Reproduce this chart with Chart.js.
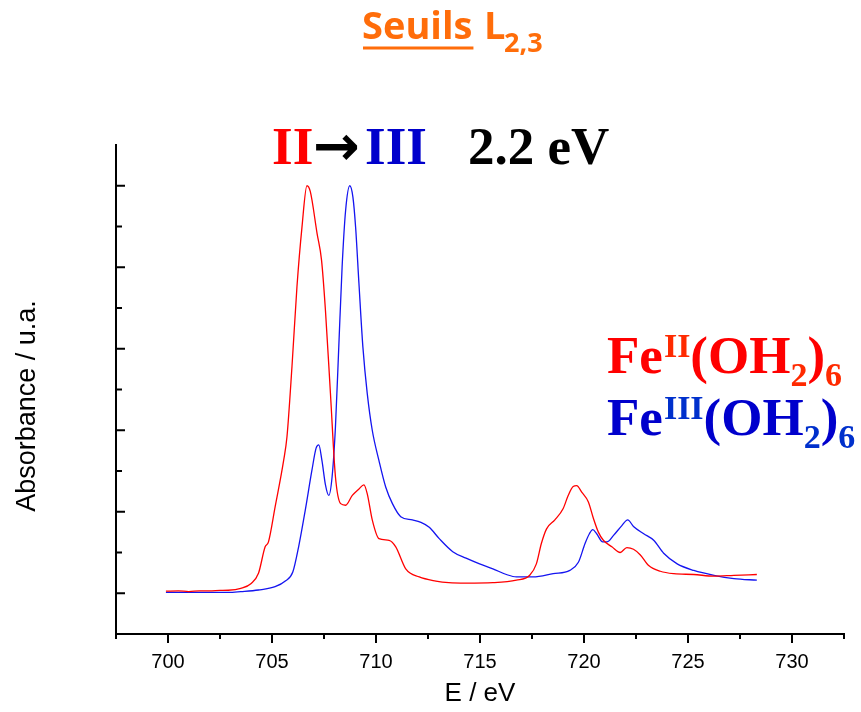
<!DOCTYPE html>
<html>
<head>
<meta charset="utf-8">
<script src="https://cdn.jsdelivr.net/npm/chart.js@4.4.0/dist/chart.umd.min.js"></script>
<style>
  html, body { margin: 0; padding: 0; background: #fff; }
  #wrap { width: 861px; height: 712px; }
</style>
</head>
<body>
<div id="wrap"><canvas id="xas"></canvas></div>
<script>
// Fe(II) hexaaqua, L2,3 edge
const energyFe2 = [699.9, 700.5, 701.0, 701.5, 702.0, 702.5, 702.9, 703.5, 704.0, 704.35, 704.67, 704.83,
  705.15, 705.56, 705.72, 705.96, 706.2, 706.44, 706.68, 706.84, 707.17, 707.38, 707.57, 707.81, 708.05,
  708.3, 708.54, 708.86, 709.18, 709.42, 709.58, 709.82, 710.14, 710.63, 710.95, 711.43, 712.08, 712.88,
  713.5, 714.33, 715.62, 716.75, 717.39, 717.71, 717.95, 718.2, 718.6, 719.0, 719.24, 719.48, 719.65,
  719.89, 720.21, 720.45, 720.69, 720.93, 721.34, 721.74, 722.06, 722.38, 722.71, 723.11, 723.67, 724.32,
  725.28, 726.25, 727.21, 728.31];
const absFe2 = [0.025, 0.03, 0.02, 0.03, 0.03, 0.035, 0.037, 0.06, 0.12, 0.245, 0.57, 0.63,
  1.06, 1.63, 1.92, 2.78, 3.76, 4.49, 5.0, 4.93, 4.41, 4.09, 3.47, 2.45, 1.43,
  1.10, 1.08, 1.20, 1.28, 1.33, 1.22, 0.90, 0.67, 0.65, 0.57, 0.30, 0.20, 0.15,
  0.13, 0.125, 0.13, 0.16, 0.22, 0.36, 0.61, 0.79, 0.90, 1.04, 1.20, 1.31, 1.32,
  1.24, 1.12, 0.92, 0.75, 0.65, 0.57, 0.50, 0.56, 0.54, 0.47, 0.34, 0.27, 0.24,
  0.23, 0.21, 0.22, 0.23];

// Fe(III) hexaaqua
const energyFe3 = [699.9, 701.0, 702.0, 702.9, 703.5, 704.35, 705.15, 705.64, 706.0, 706.28, 706.6, 706.92,
  707.12, 707.25, 707.4, 707.57, 707.73, 707.89, 708.05, 708.21, 708.37, 708.54, 708.74, 708.89, 709.02,
  709.18, 709.37, 709.58, 709.82, 710.14, 710.47, 710.79, 711.19, 711.75, 712.16, 712.56, 713.04, 713.69,
  714.33, 714.98, 715.62, 716.27, 716.75, 717.55, 718.52, 719.32, 719.73, 720.05, 720.26, 720.42, 720.61,
  720.9, 721.1, 721.42, 721.82, 722.1, 722.38, 722.87, 723.35, 723.83, 724.48, 725.28, 726.25, 727.21, 728.31];
const absFe3 = [0.01, 0.01, 0.01, 0.01, 0.02, 0.04, 0.08, 0.15, 0.26, 0.57, 1.02, 1.51,
  1.78, 1.82, 1.63, 1.33, 1.20, 1.43, 2.04, 3.02, 4.0, 4.70, 5.0, 4.86, 4.49,
  3.80, 3.02, 2.45, 2.0, 1.63, 1.30, 1.10, 0.94, 0.90, 0.87, 0.81, 0.67, 0.51,
  0.43, 0.36, 0.30, 0.23, 0.20, 0.20, 0.24, 0.28, 0.38, 0.61, 0.73, 0.78, 0.73,
  0.63, 0.63, 0.71, 0.83, 0.90, 0.82, 0.73, 0.65, 0.49, 0.36, 0.28, 0.22, 0.18, 0.16];

const xTicks = [700, 705, 710, 715, 720, 725, 730];
const xMinorTicks = [697.5, 702.5, 707.5, 712.5, 717.5, 722.5, 727.5, 732.5];
const yTicks = [0, 1, 2, 3, 4, 5];
const yMinorTicks = [0.5, 1.5, 2.5, 3.5, 4.5];

const RED = '#FF0000';
const BLUE = '#1414F0';
const ORANGE = '#FF6D0A';
const serif = '"Liberation Serif", "Times New Roman", serif';
const sans = '"Liberation Sans", Arial, sans-serif';

function runs(ctx, x, y, parts) {
  parts.forEach(p => {
    ctx.font = p.font;
    ctx.fillStyle = p.color;
    ctx.fillText(p.text, x, y + (p.dy || 0));
    x += ctx.measureText(p.text).width + (p.gap || 0);
  });
  return x;
}

const decor = {
  id: 'decor',
  afterDraw(chart) {
    const ctx = chart.ctx;
    const xs = chart.scales.x, ys = chart.scales.y;
    const a = chart.chartArea;
    ctx.save();
    ctx.strokeStyle = '#000';
    ctx.lineWidth = 2;
    ctx.beginPath();
    xTicks.forEach(v => { const p = xs.getPixelForValue(v); ctx.moveTo(p, a.bottom); ctx.lineTo(p, a.bottom + 9); });
    xMinorTicks.forEach(v => { const p = xs.getPixelForValue(v); ctx.moveTo(p, a.bottom); ctx.lineTo(p, a.bottom + 5); });
    yTicks.forEach(v => { const p = ys.getPixelForValue(v); ctx.moveTo(a.left, p); ctx.lineTo(a.left + 9, p); });
    yMinorTicks.forEach(v => { const p = ys.getPixelForValue(v); ctx.moveTo(a.left, p); ctx.lineTo(a.left + 6, p); });
    ctx.stroke();

    ctx.textBaseline = 'alphabetic';
    ctx.textAlign = 'left';

    // y axis title
    ctx.save();
    ctx.translate(35, 406);
    ctx.rotate(-Math.PI / 2);
    ctx.textAlign = 'center';
    ctx.font = '27px ' + sans;
    ctx.fillStyle = '#000';
    ctx.fillText('Absorbance / u.a.', 0, 0);
    ctx.restore();

    // title
    ctx.font = 'bold 38px "Open Sans"';
    ctx.fillStyle = ORANGE;
    ctx.fillText('Seuils', 362, 39);
    const w = ctx.measureText('Seuils').width;
    ctx.fillRect(363, 46.5, w, 3);
    ctx.fillText('L', 484, 39);
    ctx.font = 'bold 27px "Open Sans"';
    ctx.fillText('2,3', 504, 52);

    // II -> III  2.2 eV
    runs(ctx, 272, 164, [{ text: 'II', font: 'bold 53px ' + serif, color: RED }]);
    ctx.font = 'bold 56px "DejaVu Sans"';
    ctx.fillStyle = '#000';
    ctx.fillText('\u2192', 313, 165);
    runs(ctx, 365, 164, [{ text: 'III', font: 'bold 53px ' + serif, color: '#0000CC' }]);
    runs(ctx, 468, 164, [{ text: '2.2 eV', font: 'bold 53px ' + serif, color: '#000' }]);

    // legend labels
    const big = 'bold 53px ' + serif, small = 'bold 34px ' + serif;
    runs(ctx, 607, 373, [
      { text: 'Fe', font: big, color: RED, gap: 1 },
      { text: 'II', font: small, color: '#FF2A00', dy: -16 },
      { text: '(OH', font: big, color: RED },
      { text: '2', font: small, color: '#FF2A00', dy: 13 },
      { text: ')', font: big, color: RED },
      { text: '6', font: small, color: '#FF2A00', dy: 13 }
    ]);
    runs(ctx, 607, 435, [
      { text: 'Fe', font: big, color: '#0000CC', gap: 1 },
      { text: 'III', font: small, color: '#0030CC', dy: -16 },
      { text: '(OH', font: big, color: '#0000CC' },
      { text: '2', font: small, color: '#0030CC', dy: 13 },
      { text: ')', font: big, color: '#0000CC' },
      { text: '6', font: small, color: '#0030CC', dy: 13 }
    ]);
    ctx.restore();
  }
};

new Chart(document.getElementById('xas'), {
  type: 'line',
  data: {
    datasets: [{
      label: 'Fe(II)',
      data: energyFe2.map((e, i) => ({ x: e, y: absFe2[i] })),
      borderColor: RED,
      borderWidth: 1.3,
      pointRadius: 0,
      cubicInterpolationMode: 'monotone'
    }, {
      label: 'Fe(III)',
      data: energyFe3.map((e, i) => ({ x: e, y: absFe3[i] })),
      borderColor: BLUE,
      borderWidth: 1.3,
      pointRadius: 0,
      cubicInterpolationMode: 'monotone'
    }]
  },
  options: {
    responsive: true,
    maintainAspectRatio: false,
    animation: false,
    layout: { padding: { top: 145, right: 17, left: 0, bottom: 0 } },
    plugins: { legend: { display: false }, tooltip: { enabled: false } },
    scales: {
      x: {
        type: 'linear',
        min: 697.5,
        max: 732.5,
        afterBuildTicks: s => { s.ticks = xTicks.map(v => ({ value: v })); },
        afterFit: s => { s.height = 78; },
        grid: { display: false },
        border: { display: true, color: '#000', width: 2 },
        ticks: { color: '#000', font: { family: sans, size: 20 }, padding: 8, maxRotation: 0 },
        title: { display: true, text: 'E / eV', color: '#000', font: { family: sans, size: 26 }, padding: { top: 0, bottom: 3 } }
      },
      y: {
        min: -0.5,
        max: 5.5,
        afterFit: s => { s.width = 116; },
        grid: { display: false },
        border: { display: true, color: '#000', width: 2 },
        ticks: { display: false }
      }
    }
  },
  plugins: [decor]
});
</script>
</body>
</html>
